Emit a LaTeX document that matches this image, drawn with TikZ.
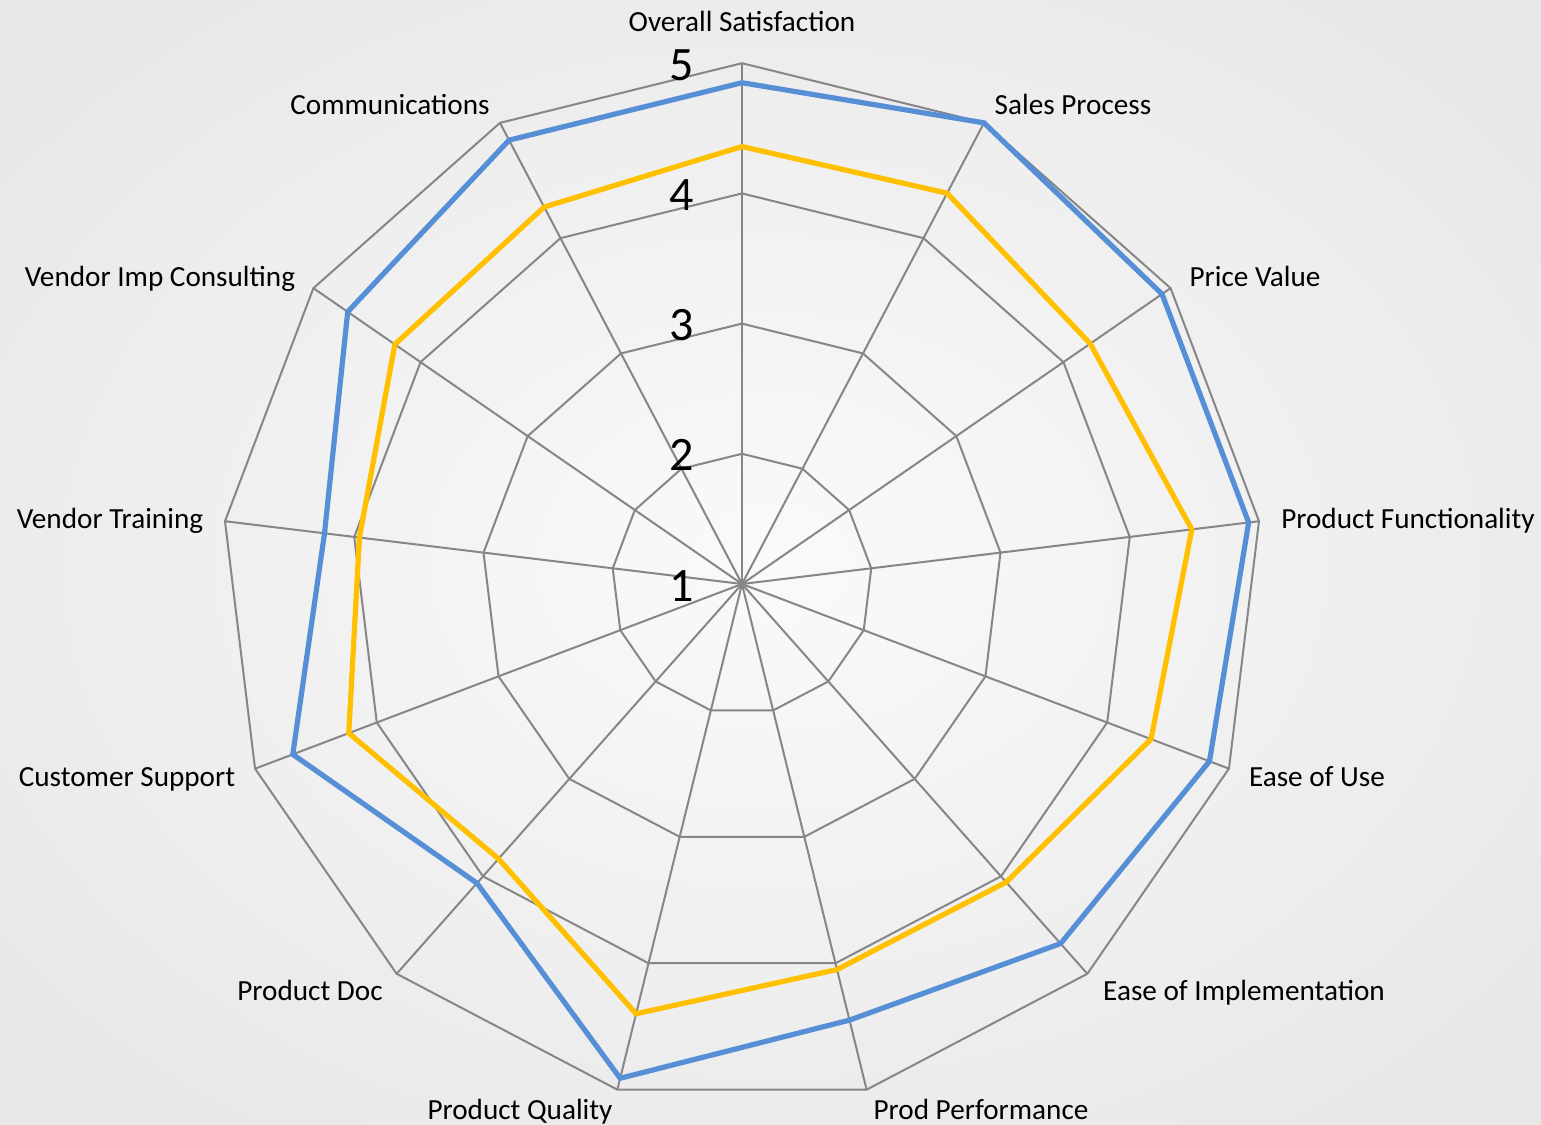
\documentclass[tikz,border=0pt]{standalone}
\usepackage{fontspec}
\setmainfont{Carlito}
\usepackage{tikz, xcolor}

\definecolor{serieblue}{RGB}{86,143,214}
\definecolor{seriegold}{RGB}{255,192,0}
\definecolor{gridgray}{RGB}{134,134,134}
\definecolor{bginner}{RGB}{250,250,250}
\definecolor{bgouter}{RGB}{231,231,231}

\tikzset{
    gridline/.style={draw=gridgray, line width=1pt},
    series/.style={line width=2.6pt},
    axislabel/.style={anchor=base, font=\fontsize{14.6}{17}\selectfont},
    ticklabel/.style={anchor=base, font=\fontsize{24}{28}\selectfont},
}

\begin{document}
\begin{tikzpicture}[x=65.1pt, y=65.1pt]
    \useasboundingbox (-371pt,-270pt) rectangle (399.5pt,292pt);
    \begin{scope}
        \clip (-371pt,-270pt) rectangle (399.5pt,292pt);
        \shade[inner color=bginner, outer color=bgouter] (-486.6pt,-354.3pt) rectangle (515.1pt,376.3pt);
    \end{scope}

    \coordinate (c) at (0,0);

    % web
    \foreach \i in {0,...,12} \draw[gridline] (c) -- (90-\i*360/13:4);
    \foreach \r in {1,...,4} \draw[gridline] (90:\r) \foreach \i in {1,...,12} {-- (90-\i*360/13:\r)} -- cycle;

    % series
    \draw[series, serieblue] (90:3.85) -- (62.31:4.00) -- (34.62:3.92) -- (6.92:3.92) -- (-20.77:3.84) -- (-48.46:3.69) -- (-76.15:3.45) -- (-103.85:3.91) -- (-131.54:3.07) -- (-159.23:3.69) -- (-186.92:3.23) -- (-214.62:3.68) -- (-242.31:3.85) -- cycle;
    \draw[series, seriegold] (90:3.36) -- (62.31:3.39) -- (34.62:3.25) -- (6.92:3.48) -- (-20.77:3.36) -- (-48.46:3.06) -- (-76.15:3.05) -- (-103.85:3.40) -- (-131.54:2.82) -- (-159.23:3.23) -- (-186.92:2.96) -- (-214.62:3.24) -- (-242.31:3.27) -- cycle;

    % scale
    \node[ticklabel] (t1) at (-30pt,-8.5pt) {1};
    \node[ticklabel] (t2) at ([yshift=-8.5pt]-30pt,1) {2};
    \node[ticklabel] (t3) at ([yshift=-8.5pt]-30pt,2) {3};
    \node[ticklabel] (t4) at ([yshift=-8.5pt]-30pt,3) {4};
    \node[ticklabel] (t5) at ([yshift=-8.5pt]-30pt,4) {5};

    % axis labels
    \node[axislabel] (overall) at (0pt,276pt) {Overall Satisfaction};
    \node[axislabel] (sales) at (165.5pt,234.5pt) {Sales Process};
    \node[axislabel] (price) at (256.5pt,148.5pt) {Price Value};
    \node[axislabel] (functionality) at (333pt,27.5pt) {Product Functionality};
    \node[axislabel] (easeuse) at (287.5pt,-101pt) {Ease of Use};
    \node[axislabel] (easeimpl) at (251pt,-208pt) {Ease of Implementation};
    \node[axislabel] (performance) at (119.5pt,-267.5pt) {Prod Performance};
    \node[axislabel] (quality) at (-111pt,-267.5pt) {Product Quality};
    \node[axislabel] (doc) at (-216pt,-208pt) {Product Doc};
    \node[axislabel] (support) at (-307.5pt,-101pt) {Customer Support};
    \node[axislabel] (training) at (-316pt,27.5pt) {Vendor Training};
    \node[axislabel] (consulting) at (-291pt,148.5pt) {Vendor Imp Consulting};
    \node[axislabel] (communications) at (-176pt,234.5pt) {Communications};

\end{tikzpicture}
\end{document}
